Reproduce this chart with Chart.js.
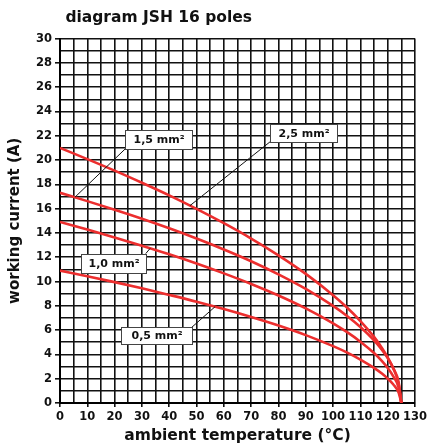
<!DOCTYPE html>
<html><head><meta charset="utf-8">
<script src="https://cdn.jsdelivr.net/npm/chart.js@4.4.0/dist/chart.umd.min.js"></script>
<style>html,body{margin:0;padding:0;background:#fff}canvas{display:block}</style>
</head><body>
<canvas id="c" width="427" height="448"></canvas>
<script>
// ---- data ----
const temperatures = [0, 10, 20, 30, 40, 50, 60, 70, 80, 90, 100, 105, 110, 115, 118, 120, 122, 124, 125];
const current05 = [10.9, 10.43, 9.95, 9.44, 8.9, 8.34, 7.73, 7.08, 6.38, 5.59, 4.68, 4.17, 3.58, 2.89, 2.4, 2.01, 1.54, 0.86, 0];
const current10 = [14.9, 14.28, 13.63, 12.95, 12.24, 11.48, 10.67, 9.8, 8.85, 7.79, 6.56, 5.85, 5.05, 4.11, 3.43, 2.89, 2.22, 1.27, 0];
const current15 = [17.3, 16.62, 15.91, 15.17, 14.38, 13.54, 12.64, 11.67, 10.59, 9.39, 7.99, 7.18, 6.25, 5.15, 4.34, 3.69, 2.89, 1.7, 0];
const current25 = [21.0, 20.08, 19.13, 18.13, 17.09, 15.98, 14.8, 13.54, 12.16, 10.63, 8.88, 7.88, 6.75, 5.44, 4.49, 3.75, 2.86, 1.59, 0];
const seriesNames = ['0,5 mm²', '1,0 mm²', '1,5 mm²', '2,5 mm²'];
const xTickLabels = [0, 10, 20, 30, 40, 50, 60, 70, 80, 90, 100, 110, 120, 130];
const yTickLabels = [0, 2, 4, 6, 8, 10, 12, 14, 16, 18, 20, 22, 24, 26, 28, 30];

// callout boxes (data coordinates): box corners and leader line end on the curve
const callouts = [
  { text: seriesNames[2], x1: 23.8, y1: 22.5, x2: 48.2, y2: 20.9, fromX: 23.8, fromY: 20.9, toX: 5.5, toY: 16.95 },
  { text: seriesNames[3], x1: 76.9, y1: 23.0, x2: 101.3, y2: 21.5, fromX: 76.9, fromY: 21.5, toX: 47.6, toY: 16.25 },
  { text: seriesNames[1], x1: 7.7, y1: 12.3, x2: 31.4, y2: 10.7, fromX: 31.4, fromY: 12.3, toX: 33.0, toY: 12.73 },
  { text: seriesNames[0], x1: 22.3, y1: 6.22, x2: 48.2, y2: 4.85, fromX: 48.2, fromY: 6.22, toX: 56.8, toY: 7.93 }
];

const RED = 'rgb(236,46,46)';
const FONT = 'DejaVu Sans';

function pts(arr) { return temperatures.map((t, i) => ({ x: t, y: arr[i] })); }
const seriesValues = [current05, current10, current15, current25];

Chart.defaults.font.family = FONT;
Chart.defaults.color = '#000';

const calloutPlugin = {
  id: 'callouts',
  afterDatasetsDraw(chart) {
    const { ctx, scales: { x, y } } = chart;
    ctx.save();
    callouts.forEach(c => {
      const fx = x.getPixelForValue(c.fromX), fy = y.getPixelForValue(c.fromY);
      const tx = x.getPixelForValue(c.toX), ty = y.getPixelForValue(c.toY);
      ctx.strokeStyle = '#111';
      ctx.lineWidth = 1;
      ctx.beginPath(); ctx.moveTo(fx, fy); ctx.lineTo(tx, ty); ctx.stroke();
      const bx1 = Math.round(x.getPixelForValue(c.x1)) + 0.5, by1 = Math.round(y.getPixelForValue(c.y1)) + 0.5;
      const bx2 = Math.round(x.getPixelForValue(c.x2)) + 0.5, by2 = Math.round(y.getPixelForValue(c.y2)) + 0.5;
      ctx.fillStyle = '#fff';
      ctx.fillRect(bx1, by1, bx2 - bx1, by2 - by1);
      ctx.strokeStyle = '#444';
      ctx.strokeRect(bx1, by1, bx2 - bx1, by2 - by1);
      ctx.fillStyle = '#111';
      ctx.font = 'bold 11px "' + FONT + '"';
      ctx.textAlign = 'center';
      ctx.textBaseline = 'middle';
      ctx.fillText(c.text, (bx1 + bx2) / 2, (by1 + by2) / 2 + 0.5);
    });
    ctx.restore();
  }
};

new Chart(document.getElementById('c'), {
  type: 'line',
  data: {
    datasets: seriesValues.map((v, i) => ({
      label: seriesNames[i],
      data: pts(v),
      borderColor: RED,
      borderWidth: 2.6,
      pointRadius: 0,
      fill: false,
      cubicInterpolationMode: 'monotone'
    }))
  },
  options: {
    responsive: false,
    animation: false,
    layout: { padding: { left: 0, right: 12, top: 0, bottom: 0 } },
    plugins: {
      legend: { display: false },
      tooltip: { enabled: false },
      title: {
        display: true,
        text: ' diagram JSH 16 poles',
        align: 'start',
        fullSize: false,
        color: '#111',
        font: { size: 15.5, weight: 'bold', family: FONT },
        padding: { top: 9, bottom: 11 }
      }
    },
    scales: {
      x: {
        type: 'linear',
        min: 0, max: 130,
        afterFit: s => { s.height = 45; s.paddingRight = 0; s.paddingLeft = 0; },
        ticks: {
          stepSize: 5,
          autoSkip: false,
          maxRotation: 0,
          padding: 3,
          color: '#111',
          font: { size: 11.5, weight: 'bold' },
          callback: v => xTickLabels.includes(v) ? String(v) : ''
        },
        grid: {
          color: '#111',
          lineWidth: 1.6,
          tickLength: 4,
          tickColor: c => (c.tick && xTickLabels.includes(c.tick.value)) ? '#111' : 'rgba(0,0,0,0)'
        },
        border: { color: '#000', width: 2 },
        title: {
          display: true,
          text: 'ambient temperature (°C)',
          color: '#111',
          font: { size: 15.5, weight: 'bold' },
          padding: { top: 0, bottom: 3 }
        }
      },
      y: {
        type: 'linear',
        min: 0, max: 30,
        afterFit: s => { s.width = 60; s.paddingTop = 0; s.paddingBottom = 0; },
        ticks: {
          stepSize: 1,
          autoSkip: false,
          padding: 3,
          color: '#111',
          font: { size: 11.5, weight: 'bold' },
          callback: v => yTickLabels.includes(v) ? String(v) : ''
        },
        grid: {
          color: '#111',
          lineWidth: 1.6,
          tickLength: 5,
          tickColor: c => (c.tick && yTickLabels.includes(c.tick.value)) ? '#111' : 'rgba(0,0,0,0)'
        },
        border: { color: '#000', width: 2 },
        title: {
          display: true,
          text: 'working current (A)',
          color: '#111',
          font: { size: 15, weight: 'bold' },
          padding: { top: 6, bottom: 0 }
        }
      }
    }
  },
  plugins: [calloutPlugin]
});
</script>
</body></html>
